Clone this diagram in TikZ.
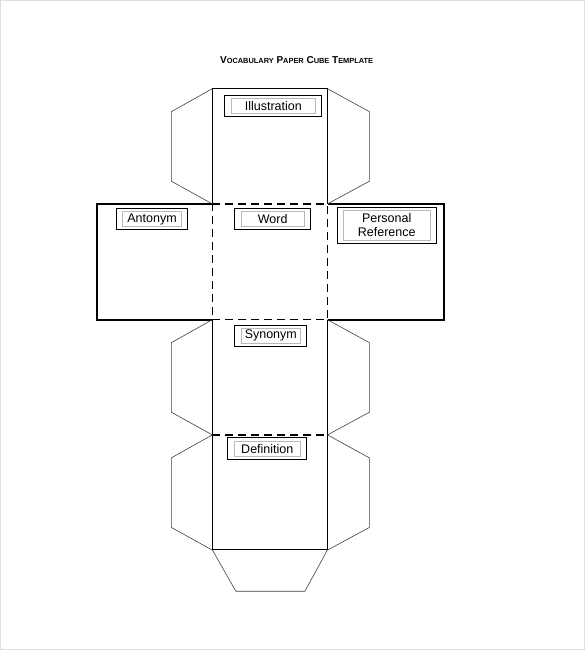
\documentclass[tikz,border=0pt]{standalone}
\usepackage{fontspec}
\setmainfont{Liberation Sans}
\usetikzlibrary{fit}
\tikzset{tag/.style = {draw=gray!55, line width=.5pt, inner sep=0pt, minimum height=15pt, align=center, font=\fontsize{12.5}{14}\selectfont},
         tagframe/.style = {draw, line width=1pt, inner xsep=6pt, inner ysep=3pt},
         flap/.style = {draw=black!75, line width=.6pt},
         fold/.style = {dash pattern=on 8pt off 5pt, line width=1.5pt},
         edge/.style = {line width=1.3pt},
         rim/.style = {line width=1.8pt}}
\newcommand{\tcap}[2]{{\fontsize{10}{12}\selectfont #1}{\fontsize{7.4}{9}\selectfont #2}}

\begin{document}
\begin{tikzpicture}[x=1pt,y=-1pt]
\useasboundingbox (0,0) rectangle (585,650);
\draw [gray!25] (0.5,0.5) rectangle (584.5,649.5);
\node (title) at (296.6,60.5) {\bfseries\tcap{V}{OCABULARY} \tcap{P}{APER} \tcap{C}{UBE} \tcap{T}{EMPLATE}};
% column and cross
\draw [edge] (212.3,204) -- (212.3,88.7) -- (327.5,88.7) -- (327.5,204);
\draw [edge] (212.3,319.7) -- (212.3,549.8) -- (327.5,549.8) -- (327.5,319.7);
\draw [rim] (212.3,204) -- (96.6,204) -- (96.6,319.7) -- (212.3,319.7);
\draw [rim] (327.5,204) -- (444,204) -- (444,319.7) -- (327.5,319.7);
\draw [fold] (212.3,204) -- (327.5,204) -- (327.5,319.7) -- (212.3,319.7) -- cycle;
\draw [fold] (212.3,434.9) -- (327.5,434.9);
% glue flaps
\foreach \t in {88.7,319.7,434.9}{
  \draw [flap] (212.3,\t) -- (171.3,{\t+23}) -- (171.3,{\t+92.5}) -- (212.3,{\t+115.2});
  \draw [flap] (327.5,\t) -- (369.4,{\t+23}) -- (369.4,{\t+92.5}) -- (327.5,{\t+115.2});
}
\draw [flap] (212.3,549.8) -- (235.8,591.2) -- (304.9,591.2) -- (327.5,549.8);
% face labels
\node [tag, minimum width=84.7pt] (ill) at (273.3,106.2) {Illustration};
\node [tag, minimum width=59.4pt] (ant) at (152,219) {Antonym};
\node [tag, minimum width=63.3pt] (word) at (272.7,219) {Word};
\node [tag, minimum width=86.7pt, minimum height=29.3pt] (pers) at (386.7,225.3) {Personal\\Reference};
\node [tag, minimum width=59.7pt] (syn) at (270.8,335.8) {Synonym};
\node [tag, minimum width=66.7pt] (defn) at (267.3,448.7) {Definition};
\foreach \n in {ill,ant,word,pers,syn,defn}
  \node [tagframe, fit=(\n)] (\n-f) {};
\end{tikzpicture}
\end{document}
